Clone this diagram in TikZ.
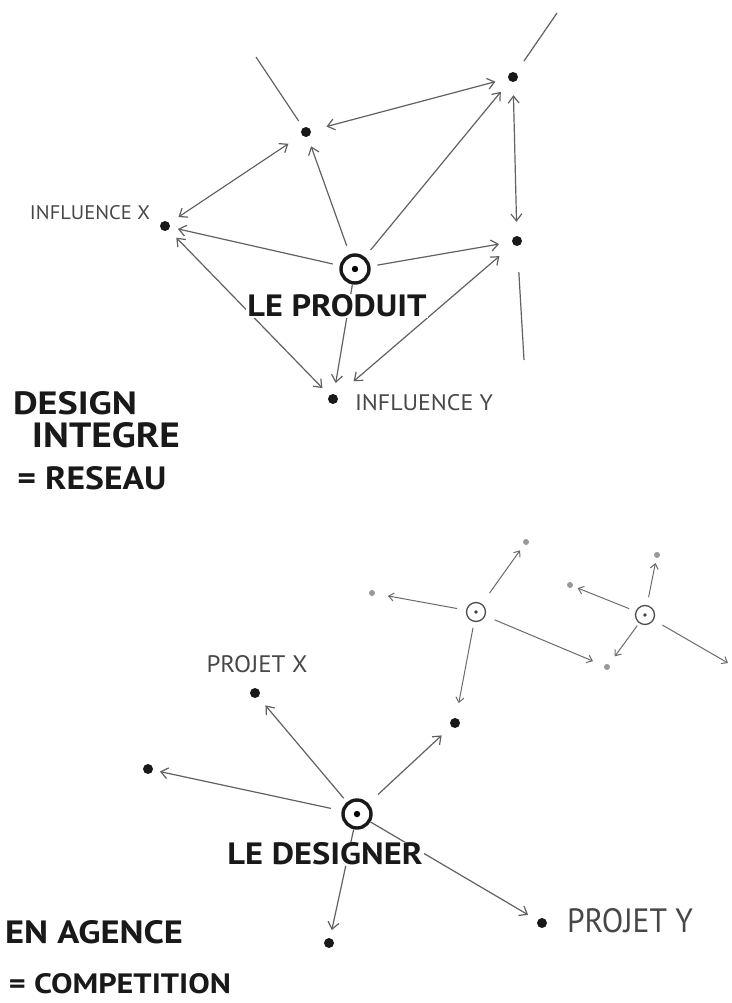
\documentclass[tikz,border=0pt]{standalone}
\usepackage{fontspec}
\setmainfont{PT Sans}
\usetikzlibrary{arrows.meta}
\begin{document}
\begin{tikzpicture}[x=1pt,y=-1pt,
 dot/.style={circle,fill=black!90,inner sep=0pt,minimum size=10pt},
 sdot/.style={circle,fill=black!40,inner sep=0pt,minimum size=6pt},
 hub/.style={circle,draw=black!90,line width=3.4pt,inner sep=0pt,minimum size=28pt,
   path picture={\fill[black] (path picture bounding box.center) circle (3.2pt);}},
 shub/.style={circle,draw=black!70,line width=1.3pt,inner sep=0pt,minimum size=19pt,
   path picture={\fill[black!75] (path picture bounding box.center) circle (1.8pt);}},
 link/.style={draw=black!62,line width=1.2pt,shorten <=8pt,shorten >=8pt},
 arr/.style={link,-{Straight Barb[length=7pt,width=11pt]}},
 both/.style={link,{Straight Barb[length=7pt,width=11pt]}-{Straight Barb[length=7pt,width=11pt]}},
 slink/.style={draw=black!58,line width=1pt,shorten <=6pt,shorten >=6pt,-{Straight Barb[length=5pt,width=8pt]}},
 big/.style={text=black!90,inner sep=1pt},
 small/.style={text=black!72,inner sep=0pt}]
\useasboundingbox (0,0) rectangle (731,1003);
\fill[white] (0,0) rectangle (731,1003);

% ---------- top network ----------
\node[hub] (P) at (355,269) {};
\node[dot] (A) at (306,132) {};
\node[dot] (B) at (513,77) {};
\node[dot] (X) at (165,226) {};
\node[dot] (R) at (517,241) {};
\node[dot] (Y) at (333,399) {};
\coordinate (a1) at (256,57);
\coordinate (b1) at (557,13);
\coordinate (r1) at (524,360);

\draw[link,shorten <=8pt,shorten >=0pt] (A) -- (a1);
\draw[link,shorten <=14pt,shorten >=0pt] (B) -- (b1);
\draw[link,shorten <=26pt,shorten >=0pt] (R) -- (r1);
\draw[both,shorten <=16pt,shorten >=13pt] (A) -- (B);
\draw[both,shorten <=11pt,shorten >=16pt] (X) -- (A);
\draw[arr,shorten <=9pt,shorten >=10pt] (P) -- (A);
\draw[arr,shorten <=9pt,shorten >=14pt] (P) -- (B);
\draw[both,shorten <=13pt,shorten >=14pt] (B) -- (R);
\draw[arr,shorten <=7pt,shorten >=8pt] (P) -- (X);
\draw[arr,shorten <=7pt,shorten >=13pt] (P) -- (R);
\draw[arr,shorten <=0pt,shorten >=11pt] (P) -- (Y);
\draw[both,shorten <=11pt,shorten >=10pt] (X) -- (Y);
\draw[both,shorten <=18pt,shorten >=22pt] (R) -- (Y);

\node[big,fill=white] (tP) at (337,306) {\resizebox{179pt}{22pt}{\bfseries LE PRODUIT}};
\node[small] (tIX) at (90,213) {\resizebox{120pt}{14pt}{INFLUENCE X}};
\node[small] (tIY) at (424,403) {\resizebox{138pt}{16pt}{INFLUENCE Y}};

\node[big] (tD1) at (75,403) {\resizebox{124pt}{23pt}{\bfseries DESIGN}};
\node[big] (tD2) at (106,435) {\resizebox{148pt}{25pt}{\bfseries INTEGRE}};
\node[big] (tD3) at (92,478) {\resizebox{149pt}{23pt}{\bfseries = RESEAU}};

% ---------- bottom network ----------
\node[hub] (D) at (357,814) {};
\node[dot] (PX) at (255,693) {};
\node[dot] (L) at (148,769) {};
\node[dot] (M) at (455,723) {};
\node[dot] (Bt) at (329,943) {};
\node[dot] (PY) at (542,923) {};
\node[shub] (C1) at (476,612) {};
\node[shub] (C2) at (645,615) {};
\node[sdot] (s1) at (526,542) {};
\node[sdot] (s2) at (372,593) {};
\node[sdot] (S) at (607,667) {};
\node[sdot] (s3) at (657,555) {};
\node[sdot] (s4) at (570,585) {};
\coordinate (c2e) at (728,663);

\draw[arr,shorten <=5pt,shorten >=11pt] (D) -- (PX);
\draw[arr,shorten <=11pt,shorten >=7pt] (D) -- (L);
\draw[arr,shorten <=13pt,shorten >=13pt] (D) -- (M);
\draw[arr,shorten <=0pt,shorten >=8pt] (D) -- (Bt);
\draw[arr,shorten <=0pt,shorten >=11pt] (D) -- (PY);

\draw[slink,shorten <=6pt,shorten >=15pt] (C1) -- (M);
\draw[slink,shorten <=13pt,shorten >=7pt] (C1) -- (s1);
\draw[slink,shorten <=9pt,shorten >=13pt] (C1) -- (s2);
\draw[slink,shorten <=10pt,shorten >=12pt] (C1) -- (S);
\draw[slink,shorten <=8pt,shorten >=5pt] (C2) -- (s3);
\draw[slink,shorten <=7pt,shorten >=5pt] (C2) -- (s4);
\draw[slink,shorten <=3pt,shorten >=10pt] (C2) -- (S);
\draw[slink,shorten <=10pt,shorten >=0pt] (C2) -- (c2e);

\node[big,fill=white] (tD) at (325,854) {\resizebox{195pt}{22pt}{\bfseries LE DESIGNER}};
\node[small] (tPX) at (257,664) {\resizebox{101pt}{17pt}{PROJET X}};
\node[small] (tPY) at (630,921) {\resizebox{126pt}{24pt}{PROJET Y}};
\node[big] (tE1) at (94,932) {\resizebox{178pt}{23pt}{\bfseries EN AGENCE}};
\node[big] (tE2) at (120,984) {\resizebox{222pt}{20pt}{\bfseries = COMPETITION}};
\end{tikzpicture}
\end{document}
